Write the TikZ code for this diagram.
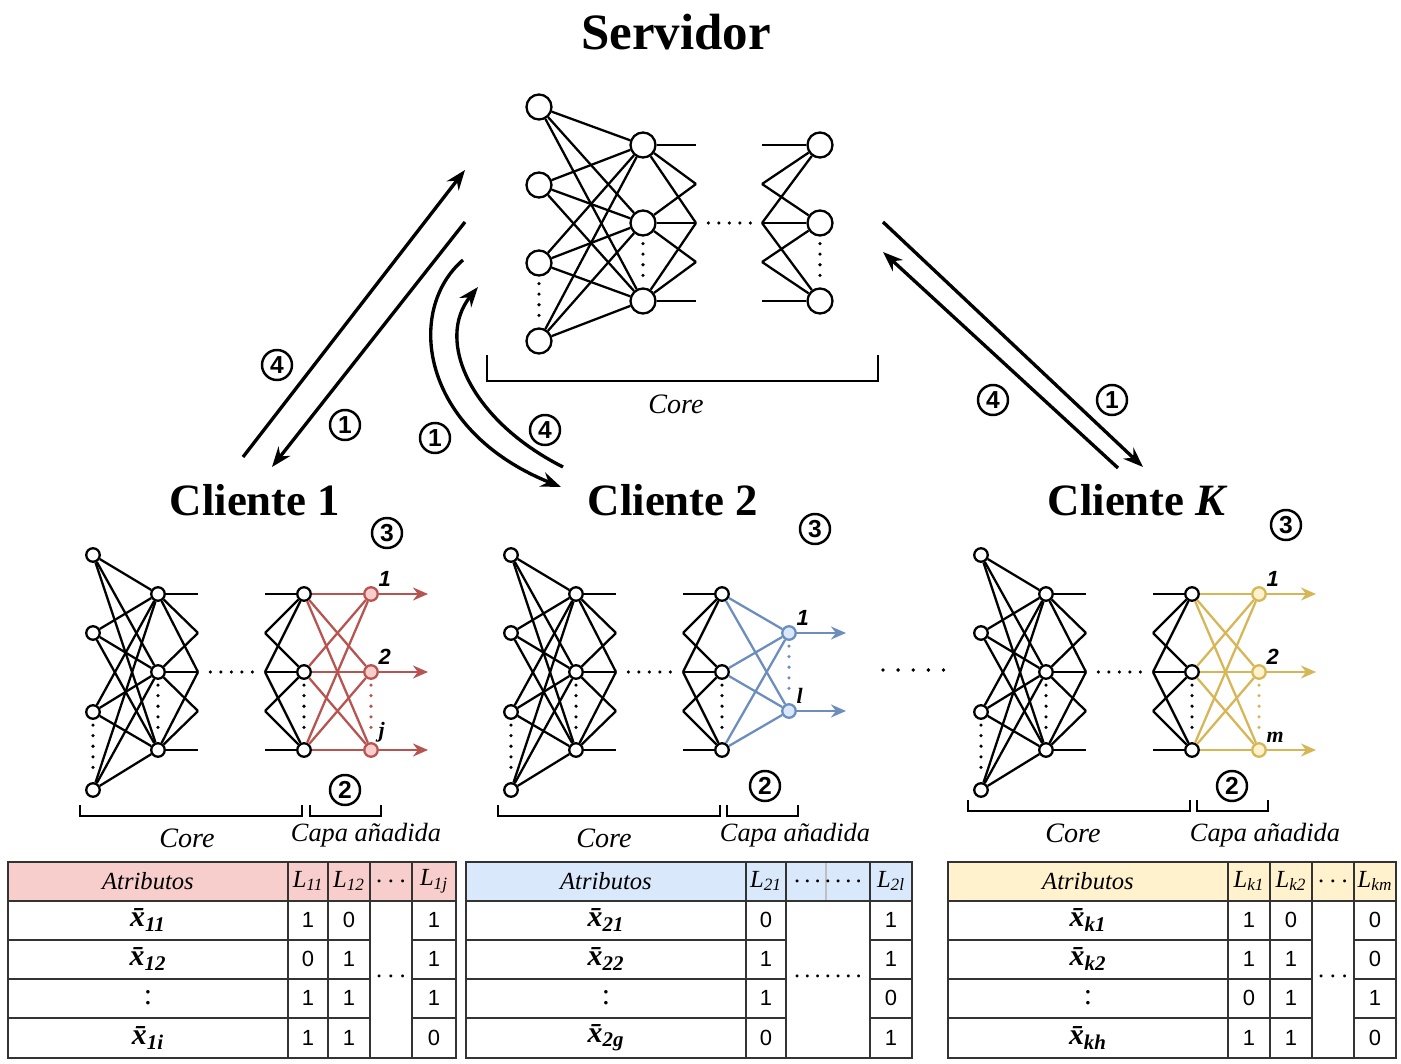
\documentclass[tikz,border=0pt]{standalone}
\usepackage{fontspec}
\setmainfont{Liberation Serif}
\setsansfont{Liberation Sans}
\usetikzlibrary{arrows.meta}

\definecolor{redline}{HTML}{B85450}
\definecolor{redfill}{HTML}{F8CECC}
\definecolor{blueline}{HTML}{6C8EBF}
\definecolor{bluefill}{HTML}{DAE8FC}
\definecolor{goldline}{HTML}{D6B656}
\definecolor{goldfill}{HTML}{FFF2CC}

\newcommand{\fsz}[1]{\fontsize{#1}{#1}\selectfont}
\newcommand{\xvec}[1]{\textbf{\textit{\=x\textsubscript{#1}}}}
\newcommand{\lsub}[1]{\textit{L\textsubscript{#1}}}
\newcommand{\sdots}{.\hspace{3.2pt}.\hspace{3.2pt}.}

\begin{document}
\begin{tikzpicture}[
    x=0.02cm, y=-0.02cm,
    neuron/.style={circle, draw, line width=1.3pt, fill=white, inner sep=0pt, minimum size=0.27cm},
    bigneuron/.style={neuron, minimum size=0.5cm},
    link/.style={line width=1.3pt},
    dots/.style={line width=2pt, line cap=round, dash pattern=on 0pt off 6pt},
    widedots/.style={line width=2.2pt, line cap=round, dash pattern=on 0pt off 8.6pt},
    bracket/.style={line width=1.2pt},
    stepnum/.style={circle, draw, line width=1.4pt, inner sep=0pt, minimum size=0.6cm, font=\sffamily\bfseries\fsz{14}},
    flow/.style={line width=1.9pt, -{Stealth[length=0.4cm, width=0.3cm]}},
    outarrow/.style={-{Stealth[length=0.3cm, width=0.26cm]}},
    outlbl/.style={font=\bfseries\itshape\fsz{12.5}, inner sep=1pt},
    title/.style={font=\bfseries\fsz{25.5}},
    lbl/.style={font=\itshape\fsz{16}},
    caplbl/.style={font=\itshape\fsz{15}},
    grid/.style={line width=0.8pt, draw=black!80},
    cell/.style={font=\sffamily\fsz{12.5}},
    head/.style={font=\fsz{14}}
]
\useasboundingbox (0,0) rectangle (1401,1064);

% ---------------- server ----------------
\node[font=\bfseries\fsz{29}] (srv) at (676,32) {Servidor};
\foreach \i/\y in {1/107,2/185,3/263,4/341}
    \node[bigneuron] (s-i\i) at (539,\y) {};
\foreach \h/\y in {1/145,2/223,3/301} {
    \node[bigneuron] (s-h\h) at (643,\y) {};
    \node[bigneuron] (s-o\h) at (820,\y) {};
}
\foreach \k/\y in {1/145,2/184,3/223,4/262,5/301} {
    \coordinate (s-a\k) at (696,\y);
    \coordinate (s-b\k) at (762,\y);
}
\foreach \i in {1,...,4}
    \foreach \h in {1,2,3}
        \draw[link] (s-i\i) -- (s-h\h);
\foreach \h in {1,2,3}
    \foreach \d in {0,1,2} {
        \pgfmathtruncatemacro{\k}{\h+\d}
        \draw[link] (s-h\h) -- (s-a\k);
        \draw[link] (s-o\h) -- (s-b\k);
    }
\draw[dots, shorten <=4pt, shorten >=4pt] (s-i3) -- (s-i4);
\draw[dots, shorten <=4pt, shorten >=4pt] (s-h2) -- (s-h3);
\draw[dots, shorten <=4pt, shorten >=4pt] (s-o2) -- (s-o3);
\draw[dots, shorten <=7pt, shorten >=4pt] (s-a3) -- (s-b3);
\draw[bracket] (487,355) |- (878,381) -- (878,355);
\node[lbl] (s-core) at (676,404) {Core};

% ---------------- client cores ----------------
\foreach \c/\ox in {a/0,b/418,k/888} {
    \foreach \i/\y in {1/555,2/633,3/712,4/790}
        \node[neuron] (\c-i\i) at (\ox+93,\y) {};
    \foreach \h/\y in {1/594,2/672,3/750} {
        \node[neuron] (\c-h\h) at (\ox+158,\y) {};
        \node[neuron] (\c-o\h) at (\ox+304,\y) {};
    }
    \foreach \k/\y in {1/594,2/633,3/672,4/711,5/750} {
        \coordinate (\c-a\k) at (\ox+198,\y);
        \coordinate (\c-b\k) at (\ox+265,\y);
    }
    \foreach \i in {1,...,4}
        \foreach \h in {1,2,3}
            \draw[link] (\c-i\i) -- (\c-h\h);
    \foreach \h in {1,2,3}
        \foreach \d in {0,1,2} {
            \pgfmathtruncatemacro{\k}{\h+\d}
            \draw[link] (\c-h\h) -- (\c-a\k);
            \draw[link] (\c-o\h) -- (\c-b\k);
        }
    \draw[dots, shorten <=3pt, shorten >=3pt] (\c-i3) -- (\c-i4);
    \draw[dots, shorten <=3pt, shorten >=3pt] (\c-h2) -- (\c-h3);
    \draw[dots, shorten <=3pt, shorten >=3pt] (\c-o2) -- (\c-o3);
    \draw[dots, shorten <=7pt, shorten >=5pt] (\c-a3) -- (\c-b3);
}

% added layer, client 1
\foreach \j/\y/\lb in {1/594/{\sffamily 1}, 2/672/{\sffamily 2}, 3/750/j} {
    \node[neuron, draw=redline, fill=redfill, label={[outlbl]45:\lb}] (a-y\j) at (371,\y) {};
    \coordinate (a-e\j) at (428,\y);
}
\foreach \i in {1,2,3}
    \foreach \j in {1,2,3}
        \draw[link, redline] (a-o\i) -- (a-y\j);
\foreach \j in {1,2,3}
    \draw[link, redline, outarrow] (a-y\j) -- (a-e\j);
\draw[dots, redline, shorten <=3pt, shorten >=3pt] (a-y2) -- (a-y3);

% added layer, client 2
\foreach \j/\y/\lb in {1/633/{\sffamily 1}, 2/711/l} {
    \node[neuron, draw=blueline, fill=bluefill, label={[outlbl]45:\lb}] (b-y\j) at (789,\y) {};
    \coordinate (b-e\j) at (846,\y);
}
\foreach \i in {1,2,3}
    \foreach \j in {1,2}
        \draw[link, blueline] (b-o\i) -- (b-y\j);
\foreach \j in {1,2}
    \draw[link, blueline, outarrow] (b-y\j) -- (b-e\j);
\draw[dots, blueline, shorten <=3pt, shorten >=3pt] (b-y1) -- (b-y2);

% added layer, client K
\foreach \j/\y/\lb in {1/594/{\sffamily 1}, 2/672/{\sffamily 2}, 3/750/m} {
    \node[neuron, draw=goldline, fill=goldfill, label={[outlbl]45:\lb}] (k-y\j) at (1259,\y) {};
    \coordinate (k-e\j) at (1316,\y);
}
\foreach \i in {1,2,3}
    \foreach \j in {1,2,3}
        \draw[link, goldline] (k-o\i) -- (k-y\j);
\foreach \j in {1,2,3}
    \draw[link, goldline, outarrow] (k-y\j) -- (k-e\j);
\draw[dots, goldline, shorten <=3pt, shorten >=3pt] (k-y2) -- (k-y3);

\draw[widedots] (883,670) -- (951,670);

% titles, brackets, labels
\node[title] (a-title) at (255,500) {Cliente 1};
\node[title] (b-title) at (673,500) {Cliente 2};
\node[title] (k-title) at (1138,500) {Cliente \textit{K}};

\draw[bracket] (80,805) |- (302,816) -- (302,805);
\draw[bracket] (310,805) |- (381,816) -- (381,805);
\node[lbl] (a-core) at (187,838) {Core};
\node[caplbl] (a-cap) at (366,835) {Capa añadida};

\draw[bracket] (498,805) |- (720,816) -- (720,805);
\draw[bracket] (727,805) |- (798,816) -- (798,805);
\node[lbl] (b-core) at (604,838) {Core};
\node[caplbl] (b-cap) at (795,835) {Capa añadida};

\draw[bracket] (968,800) |- (1190,811) -- (1190,800);
\draw[bracket] (1197,800) |- (1268,811) -- (1268,800);
\node[lbl] (k-core) at (1073,833) {Core};
\node[caplbl] (k-cap) at (1265,835) {Capa añadida};

\node[stepnum] (a-n3) at (387,533) {3};
\node[stepnum] (a-n2) at (345,790) {2};
\node[stepnum] (b-n3) at (815,529) {3};
\node[stepnum] (b-n2) at (765,786) {2};
\node[stepnum] (k-n3) at (1286,525) {3};
\node[stepnum] (k-n2) at (1232,786) {2};

% ---------------- exchange arrows ----------------
\coordinate (a-up0) at (243,457);
\coordinate (a-up1) at (465,170);
\coordinate (a-dn0) at (465,222);
\coordinate (a-dn1) at (272,467);
\draw[flow] (a-up0) -- (a-up1);
\draw[flow] (a-dn0) -- (a-dn1);
\node[stepnum] (a-n4) at (277,365) {4};
\node[stepnum] (a-n1) at (345,425) {1};

\coordinate (b-dn0) at (463,260);
\coordinate (b-dn1) at (561,487);
\coordinate (b-up0) at (563,467);
\coordinate (b-up1) at (478,287);
\draw[flow] (b-dn0) .. controls (405,310) and (420,430) .. (b-dn1);
\draw[flow] (b-up0) .. controls (470,420) and (435,340) .. (b-up1);
\node[stepnum] (b-n1) at (435,438) {1};
\node[stepnum] (b-n4) at (545,430) {4};

\coordinate (k-dn0) at (883,222);
\coordinate (k-dn1) at (1143,467);
\coordinate (k-up0) at (1118,468);
\coordinate (k-up1) at (883,252);
\draw[flow] (k-dn0) -- (k-dn1);
\draw[flow] (k-up0) -- (k-up1);
\node[stepnum] (k-n4) at (993,400) {4};
\node[stepnum] (k-n1) at (1112,400) {1};

% ---------------- tables ----------------
% client 1
\fill[redfill] (8,862) rectangle (456,901);
\draw[grid] (8,862) rectangle (456,1058);
\foreach \x in {288,328,370,412}
    \draw[grid] (\x,862) -- (\x,1058);
\draw[grid] (8,901) -- (456,901);
\foreach \y in {940,979,1018} {
    \draw[grid] (8,\y) -- (370,\y);
    \draw[grid] (412,\y) -- (456,\y);
}
\node[head, font=\itshape\fsz{14}] (t1-h0) at (148,881) {Atributos};
\node[head] (t1-h1) at (308,881) {\lsub{11}};
\node[head] (t1-h2) at (349,881) {\lsub{12}};
\node[head] (t1-h3) at (391,881) {\sdots};
\node[head] (t1-h4) at (434,881) {\lsub{1j}};
\foreach \y/\lb/\p/\q/\r [count=\n] in {920/{\xvec{11}}/1/0/1, 959/{\xvec{12}}/0/1/1, 998/{:}/1/1/1, 1038/{\xvec{1i}}/1/1/0} {
    \node[head, font=\fsz{17}] (t1-r\n) at (148,\y) {\lb};
    \node[cell] (t1-p\n) at (308,\y) {\p};
    \node[cell] (t1-q\n) at (349,\y) {\q};
    \node[cell] (t1-s\n) at (434,\y) {\r};
}
\node[head] (t1-dots) at (391,976) {\sdots};

% client 2
\fill[bluefill] (466,862) rectangle (912,901);
\draw[black!25, line width=0.6pt] (826,862) -- (826,901);
\draw[grid] (466,862) rectangle (912,1058);
\foreach \x in {746,786,870}
    \draw[grid] (\x,862) -- (\x,1058);
\draw[grid] (466,901) -- (912,901);
\foreach \y in {940,979,1018} {
    \draw[grid] (466,\y) -- (786,\y);
    \draw[grid] (870,\y) -- (912,\y);
}
\node[head, font=\itshape\fsz{14}] (t2-h0) at (606,881) {Atributos};
\node[head] (t2-h1) at (766,881) {\lsub{21}};
\node[head] (t2-h2) at (828,881) {.\,.\,.\,.\,.\,.\,.};
\node[head] (t2-h3) at (891,881) {\lsub{2l}};
\foreach \y/\lb/\p/\r [count=\n] in {920/{\xvec{21}}/0/1, 959/{\xvec{22}}/1/1, 998/{:}/1/0, 1038/{\xvec{2g}}/0/1} {
    \node[head, font=\fsz{17}] (t2-r\n) at (606,\y) {\lb};
    \node[cell] (t2-p\n) at (766,\y) {\p};
    \node[cell] (t2-s\n) at (891,\y) {\r};
}
\node[head] (t2-dots) at (828,976) {.\,.\,.\,.\,.\,.\,.};

% client K
\fill[goldfill] (948,862) rectangle (1396,901);
\draw[grid] (948,862) rectangle (1396,1058);
\foreach \x in {1228,1270,1312,1354}
    \draw[grid] (\x,862) -- (\x,1058);
\draw[grid] (948,901) -- (1396,901);
\foreach \y in {940,979,1018} {
    \draw[grid] (948,\y) -- (1312,\y);
    \draw[grid] (1354,\y) -- (1396,\y);
}
\node[head, font=\itshape\fsz{14}] (t3-h0) at (1088,881) {Atributos};
\node[head] (t3-h1) at (1249,881) {\lsub{k1}};
\node[head] (t3-h2) at (1291,881) {\lsub{k2}};
\node[head] (t3-h3) at (1333,881) {\sdots};
\node[head] (t3-h4) at (1375,881) {\lsub{km}};
\foreach \y/\lb/\p/\q/\r [count=\n] in {920/{\xvec{k1}}/1/0/0, 959/{\xvec{k2}}/1/1/0, 998/{:}/0/1/1, 1038/{\xvec{kh}}/1/1/0} {
    \node[head, font=\fsz{17}] (t3-r\n) at (1088,\y) {\lb};
    \node[cell] (t3-p\n) at (1249,\y) {\p};
    \node[cell] (t3-q\n) at (1291,\y) {\q};
    \node[cell] (t3-s\n) at (1375,\y) {\r};
}
\node[head] (t3-dots) at (1333,976) {\sdots};

\end{tikzpicture}
\end{document}
